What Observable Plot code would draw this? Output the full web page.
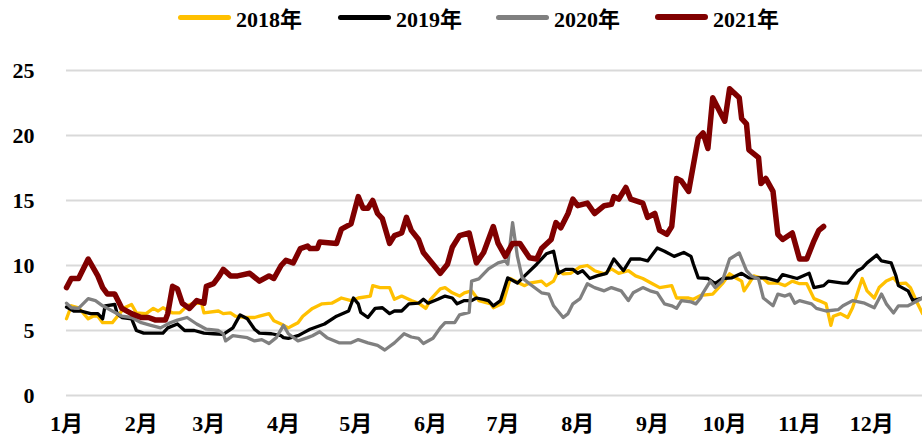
<!DOCTYPE html>
<html>
<head>
<meta charset="utf-8">
<script src="https://cdn.jsdelivr.net/npm/d3@7"></script>
<script src="https://cdn.jsdelivr.net/npm/@observablehq/plot@0.6"></script>
<style>
  html, body { margin: 0; padding: 0; background: #fff; }
  body { width: 922px; height: 439px; overflow: hidden; font-family: "Liberation Serif", "Noto Sans CJK SC", serif; }
  #legend { position: relative; height: 34px; width: 922px; }
  .item { position: absolute; top: 0; height: 34px; display: flex; align-items: center; font-size: 22px; font-weight: bold; color: #000; }
  .sw { display: inline-block; width: 53px; height: 5px; border-radius: 3px; margin-right: 5px; }
</style>
</head>
<body>
<div id="legend"></div>
<div id="chart"></div>
<script>
// ---- data (day of year, value) ----
const monthStarts = [0,31,59,90,120,151,181,212,243,273,304,334];
const monthLabels = ["1月","2月","3月","4月","5月","6月","7月","8月","9月","10月","11月","12月"];
const yTicks = [0,5,10,15,20,25];

const seriesNames = ["2018年","2019年","2020年","2021年"];
const seriesColors = ["#FFC000","#000000","#808080","#800000"];

const d2018 = [0,2,5,9,11,13,15,19,22,24,27,29,33,36,38,40,44,47,50,52,56,57,63,65,68,70,74,78,80,84,86,89,92,94,96,98,102,106,110,114,118,121,126,127,130,134,136,139,143,146,149,151,155,157,160,163,165,168,171,176,177,181,184,190,192,197,199,202,204,206,209,213,216,219,223,226,229,233,236,239,243,246,251,253,258,260,263,268,270,272,275,278,280,281,283,285,289,291,295,298,301,304,307,310,312,315,317,318,321,324,326,330,332,335,337,340,343,345,348,350,353,355];
const v2018 = [5.9,6.9,6.75,5.9,6.1,6.1,5.6,5.6,6.3,6.75,7.0,6.35,6.3,6.7,6.5,6.75,6.35,6.35,6.9,7.05,7.1,6.35,6.5,6.3,6.35,6.1,6.0,6.0,6.1,6.3,5.75,5.5,5.2,5.4,5.6,6.1,6.7,7.05,7.1,7.5,7.3,7.5,7.65,8.45,8.3,8.3,7.4,7.65,7.3,7.1,6.7,7.4,8.2,8.3,7.9,7.65,7.9,8.05,7.3,7.05,6.75,7.1,9.0,8.45,8.65,8.8,8.45,8.8,9.6,9.36,9.4,9.9,10.0,9.6,9.36,9.74,9.4,9.6,9.2,9.0,8.6,8.3,8.45,7.5,7.5,7.4,7.7,7.8,8.2,8.6,9.36,9.0,8.8,8.05,8.6,9.2,9.0,8.65,8.65,8.45,8.8,8.6,8.6,7.45,7.3,7.05,5.4,6.1,6.3,6.0,6.75,9.0,8.05,7.5,8.3,8.8,9.05,8.6,8.65,8.3,7.05,6.3];

const d2019 = [0,3,6,8,10,13,15,16,20,21,23,27,29,32,36,40,42,46,49,53,57,61,65,69,72,75,78,80,85,89,90,92,96,98,101,107,112,117,119,121,122,125,128,131,134,136,139,142,146,148,150,154,157,160,162,165,168,170,173,175,177,180,183,187,190,195,199,202,204,207,210,212,214,217,220,224,227,231,234,238,241,245,248,252,256,259,260,262,266,269,272,276,280,283,290,295,297,303,308,310,314,316,322,324,328,330,332,336,338,342,344,345,349,351,355];
const v2019 = [6.8,6.5,6.5,6.4,6.3,6.3,5.9,6.9,7.0,6.3,6.0,5.9,5.0,4.8,4.8,4.8,5.2,5.5,5.0,5.0,4.8,4.75,4.7,5.2,6.2,5.9,5.1,4.8,4.75,4.6,4.45,4.4,4.6,4.8,5.1,5.5,6.1,6.5,7.5,7.05,6.4,6.0,6.7,6.75,6.3,6.5,6.5,7.05,7.1,7.4,7.1,7.4,7.65,7.5,7.05,7.3,7.3,7.5,7.4,7.3,6.9,7.3,9.05,8.65,9.2,10.1,10.9,11.1,9.4,9.7,9.7,9.4,9.6,9.0,9.2,9.4,10.5,9.6,10.5,10.5,10.35,11.35,11.1,10.7,11.0,10.7,10.1,9.05,9.0,8.6,9.0,9.05,9.4,9.05,9.05,8.8,9.3,9.0,9.4,8.3,8.45,8.8,8.65,8.65,9.6,9.8,10.2,10.8,10.35,10.2,9.2,8.45,8.05,7.3,7.5];

const d2020 = [0,2,5,9,12,15,19,23,27,31,35,39,43,46,50,54,58,63,65,66,69,75,78,81,84,87,90,92,96,100,102,105,108,113,118,121,125,129,132,136,140,143,146,148,152,155,157,161,163,167,168,171,173,175,179,182,183,185,187,189,192,197,200,202,206,208,210,213,216,219,223,226,230,233,235,239,242,245,248,251,253,255,259,261,263,264,267,269,272,275,279,282,284,287,289,293,295,298,300,302,304,309,311,315,320,322,326,331,335,338,340,343,345,349,351,355];
const v2020 = [7.1,6.75,6.7,7.45,7.3,6.9,6.5,6.1,6.0,5.6,5.4,5.2,5.6,5.8,6.0,5.5,5.1,5.0,4.75,4.2,4.6,4.45,4.2,4.3,4.0,4.45,5.4,4.75,4.2,4.45,4.6,4.9,4.45,4.05,4.05,4.3,4.05,3.85,3.5,4.05,4.75,4.5,4.4,4.0,4.4,5.2,5.6,5.6,6.2,6.4,8.8,8.97,9.36,9.74,10.2,10.35,10.1,13.3,10.7,9.05,8.6,7.9,7.8,6.9,6.0,6.3,7.05,7.45,8.6,8.3,8.05,8.3,8.05,7.3,7.9,8.3,8.05,7.9,7.05,6.9,6.7,7.3,7.2,7.05,7.5,7.9,8.8,8.3,8.8,10.5,10.97,9.6,9.2,8.97,7.5,6.9,7.8,7.65,7.8,7.1,7.3,7.05,6.7,6.5,6.6,6.9,7.3,7.1,6.75,7.8,7.05,6.35,6.9,6.9,7.1,7.5];

const d2021 = [0,2,5,9,13,15,17,20,23,27,31,34,37,41,42,44,46,48,51,54,57,58,61,63,65,68,71,76,80,84,86,89,91,94,97,100,101,104,105,112,114,118,121,123,125,127,129,131,134,136,139,141,143,146,148,152,155,158,160,163,167,170,173,177,179,182,185,188,192,195,197,201,203,205,208,210,212,216,219,223,226,227,229,232,234,239,241,244,246,249,251,253,255,258,262,264,266,268,273,275,279,280,282,283,287,288,290,293,295,297,301,304,307,310,312,314];
const v2021 = [8.3,9.0,9.0,10.5,9.2,8.3,7.8,7.8,6.7,6.3,6.0,6.0,5.8,5.8,6.3,8.4,8.2,7.1,6.7,7.3,7.1,8.4,8.6,9.1,9.7,9.2,9.2,9.4,8.8,9.2,9.0,10.0,10.4,10.2,11.3,11.5,11.3,11.3,11.8,11.7,12.8,13.2,15.3,14.4,14.4,15.0,14.0,13.6,11.7,12.3,12.5,13.7,12.7,12.0,11.0,10.1,9.4,10.1,11.4,12.3,12.5,10.2,11.0,13.0,11.7,10.7,11.7,11.7,10.6,10.5,11.3,12.0,13.3,12.9,14.0,15.1,14.6,14.8,14.0,14.6,14.7,15.3,15.1,16.0,15.1,14.8,13.7,14.0,12.7,12.4,13.0,16.7,16.5,15.7,19.8,20.2,19.0,22.9,21.1,23.6,22.9,21.3,20.9,18.9,18.3,16.3,16.7,15.7,12.4,12.0,12.5,10.5,10.5,11.9,12.7,13.0];

// ---- build tables ----
const toRows = (days, vals) => days.map((d, i) => ({day: d, value: vals[i]}));
const series = [toRows(d2018, v2018), toRows(d2019, v2019), toRows(d2020, v2020), toRows(d2021, v2021)];
const widths = [3.3, 3.3, 3.3, 5.5];

// ---- legend ----
const legendLefts = [178, 338, 496, 655];
const legend = document.getElementById("legend");
seriesNames.forEach((name, i) => {
  const it = document.createElement("div");
  it.className = "item";
  it.style.left = legendLefts[i] + "px";
  const sw = document.createElement("span");
  sw.className = "sw";
  sw.style.background = seriesColors[i];
  if (i === 3) sw.style.height = "6px";
  it.appendChild(sw);
  it.appendChild(document.createTextNode(name));
  legend.appendChild(it);
});

// ---- chart ----
const labelMap = new Map(monthStarts.map((d, i) => [d, monthLabels[i]]));
const chart = Plot.plot({
  width: 922,
  height: 405,
  marginLeft: 66,
  marginRight: 0,
  marginTop: 36,
  marginBottom: 44,
  style: {fontFamily: "'Liberation Serif', 'Noto Sans CJK SC', serif", fontSize: "22px", fontWeight: "bold", color: "#000", background: "#fff"},
  x: {type: "linear", domain: [0, 355]},
  y: {domain: [0, 25]},
  marks: [
    Plot.gridY(yTicks, {stroke: "#d9d9d9", strokeOpacity: 1, strokeWidth: 2}),
    Plot.axisY(yTicks, {tickSize: 0, tickPadding: 32, label: null, fill: "#000"}),
    Plot.axisX(monthStarts, {tickSize: 0, tickPadding: 20, label: null, tickFormat: d => labelMap.get(d), fill: "#000"}),
    ...series.map((rows, i) => Plot.line(rows, {x: "day", y: "value", stroke: seriesColors[i], strokeWidth: widths[i], strokeLinejoin: "round", strokeLinecap: "round"}))
  ]
});
document.getElementById("chart").appendChild(chart);
</script>
</body>
</html>
